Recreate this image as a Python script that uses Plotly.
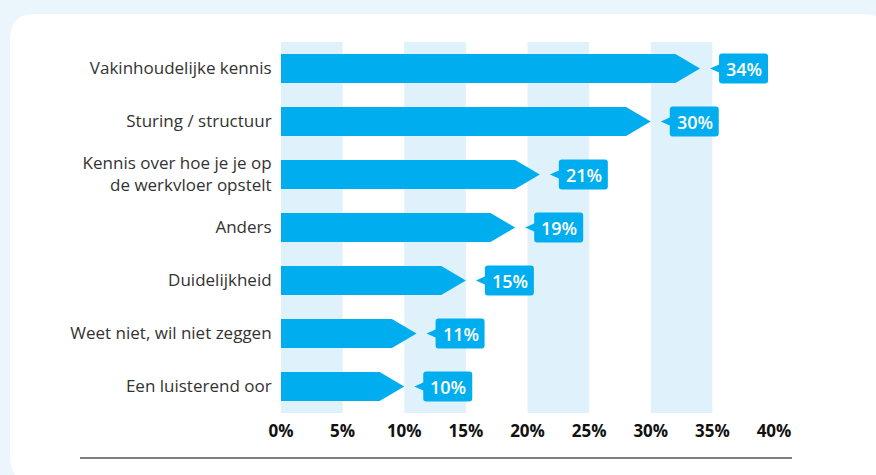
import plotly.graph_objects as go

categories = [
    "Vakinhoudelijke kennis",
    "Sturing / structuur",
    "Kennis over hoe je je op<br>de werkvloer opstelt",
    "Anders",
    "Duidelijkheid",
    "Weet niet, wil niet zeggen",
    "Een luisterend oor",
]
values = [34, 30, 21, 19, 15, 11, 10]
x_ticks = [0, 5, 10, 15, 20, 25, 30, 35, 40]
x_tick_labels = [f"{t}%" for t in x_ticks]
stripes = [(0, 5), (10, 15), (20, 25), (30, 35)]

BLUE = "#00aeef"
STRIPE = "#dff1fa"
FONT = "Open Sans"

fig = go.Figure()

# arrow shaped bars, built from the values (tip sits on the value)
head = 2.0   # length of the arrow head in % units
half = 0.275  # half bar height in category units
xs, ys = [], []
for i, v in enumerate(values):
    body = max(v - head, 0)
    xs += [0, body, v, body, 0, 0, None]
    ys += [i - half, i - half, i, i + half, i + half, i - half, None]

fig.add_trace(go.Scatter(
    x=xs, y=ys, mode="lines", fill="toself",
    fillcolor=BLUE, line=dict(width=0, color=BLUE),
    hoverinfo="skip", showlegend=False,
))

# white rounded card (pixels relative to the plot's top-left corner)
L, T, R, B, cr = -271, 28, 607, -440, 25
card = (f"M {L} {T - cr} Q {L} {T} {L + cr} {T} L {R - cr} {T} Q {R} {T} {R} {T - cr} "
        f"L {R} {B + cr} Q {R} {B} {R - cr} {B} L {L + cr} {B} Q {L} {B} {L} {B + cr} Z")
fig.add_shape(type="path", xref="paper", yref="paper",
              xsizemode="pixel", ysizemode="pixel", xanchor=0, yanchor=1,
              path=card, fillcolor="white", line=dict(width=0), layer="below")

# background stripes
for a, b in stripes:
    fig.add_shape(type="rect", xref="x", yref="paper", x0=a, x1=b, y0=0, y1=1,
                  fillcolor=STRIPE, line=dict(width=0), layer="below")

# value callouts
r = 3
for i, v in enumerate(values):
    box = (f"M 10 0 L 19 4 L 19 {15 - r} Q 19 15 {19 + r} 15 "
           f"L {68 - r} 15 Q 68 15 68 {15 - r} L 68 {-15 + r} Q 68 -15 {68 - r} -15 "
           f"L {19 + r} -15 Q 19 -15 19 {-15 + r} L 19 -4 Z")
    fig.add_shape(type="path", xref="x", yref="y",
                  xsizemode="pixel", ysizemode="pixel", xanchor=v, yanchor=i,
                  path=box, fillcolor=BLUE, line=dict(width=0))
    fig.add_annotation(x=v, y=i, text=f"{v}%", showarrow=False,
                       xanchor="center", xshift=44, yshift=0,
                       font=dict(family=FONT, size=18, color="white", weight=600))

# bottom rule
fig.add_shape(type="line", xref="paper", yref="paper",
              xsizemode="pixel", ysizemode="pixel", xanchor=0, yanchor=0,
              x0=-201, x1=511, y0=-45, y1=-45,
              line=dict(color="#555555", width=1.5))

fig.update_layout(
    width=876, height=475,
    margin=dict(l=281, r=102, t=42, b=62),
    paper_bgcolor="#ebf6fc", plot_bgcolor="rgba(0,0,0,0)",
    xaxis=dict(range=[0, 40], tickvals=x_ticks, ticktext=x_tick_labels,
               showgrid=False, zeroline=False, ticks="outside", ticklen=3,
               tickcolor="rgba(0,0,0,0)",
               tickfont=dict(family=FONT, size=17, color="#111111", weight="bold")),
    yaxis=dict(range=[len(categories) - 0.5, -0.5], tickvals=list(range(len(categories))),
               ticktext=categories, showgrid=False, zeroline=False,
               ticks="outside", ticklen=5, tickcolor="rgba(0,0,0,0)",
               tickfont=dict(family=FONT, size=17, color="#333333")),
)

fig.write_html("out.html", config={"displayModeBar": False},
               post_script="document.body.style.margin='0';")
